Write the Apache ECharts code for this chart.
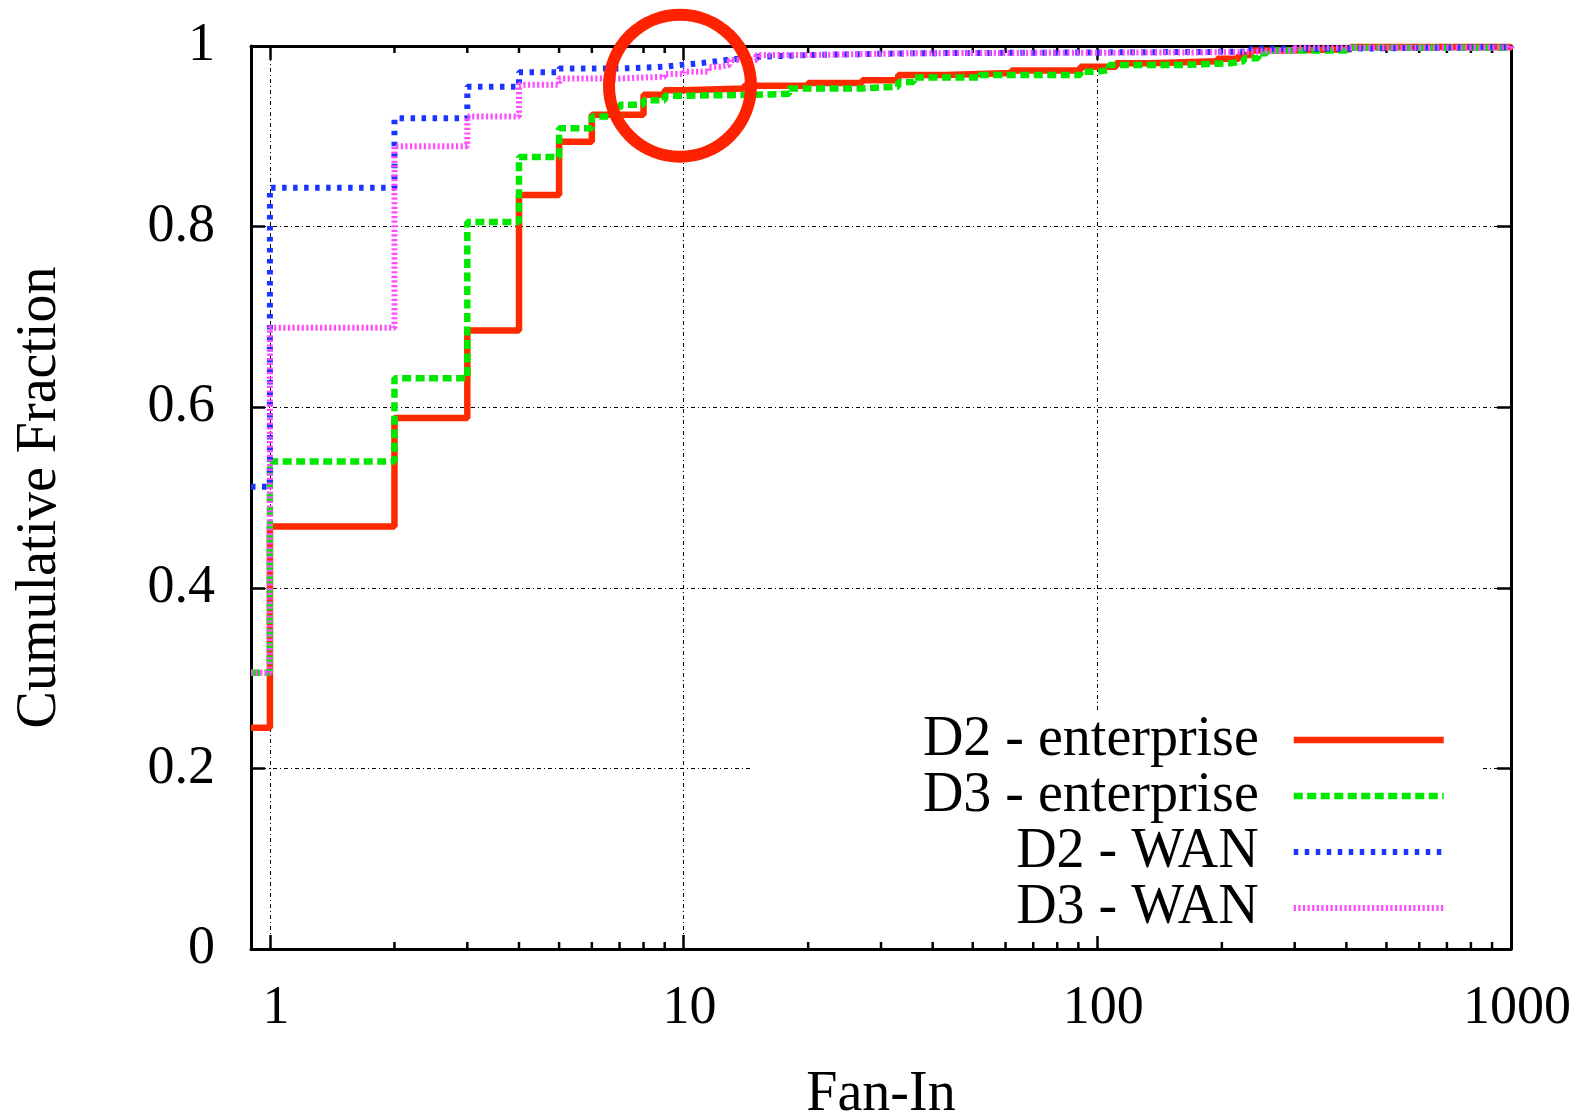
<!DOCTYPE html>
<html>
<head>
<meta charset="utf-8">
<script src="https://cdn.jsdelivr.net/npm/echarts@6/dist/echarts.min.js"></script>
<style>
  html, body { margin: 0; padding: 0; background: #fff; }
  #chart { width: 1583px; height: 1115px; }
</style>
</head>
<body>
<div id="chart"></div>
<script>
// Cumulative fan-in distributions, [fan-in, cumulative fraction], plotted as steps
const d2Enterprise = [[0.9, 0.245], [1, 0.468], [2, 0.588], [3, 0.685], [4, 0.835], [5, 0.894], [6, 0.924],
  [8, 0.946], [9, 0.951], [10, 0.953], [14, 0.956], [20, 0.959], [27, 0.962], [33, 0.968], [43, 0.970],
  [62, 0.973], [91, 0.977], [111, 0.981], [134, 0.983], [195, 0.986], [220, 0.990], [235, 0.995],
  [280, 0.9965], [410, 0.999], [1000, 1]];
const d3Enterprise = [[0.9, 0.306], [1, 0.540], [2, 0.632], [3, 0.805], [4, 0.877], [5, 0.909], [6, 0.922],
  [7, 0.935], [8, 0.940], [9, 0.945], [10, 0.946], [15, 0.947], [18, 0.953], [27, 0.955], [33, 0.960],
  [36, 0.965], [52, 0.968], [91, 0.9715], [100, 0.9734], [107, 0.979], [161, 0.981], [210, 0.983],
  [226, 0.9865], [245, 0.992], [257, 0.995], [400, 0.998], [1000, 1]];
const d2Wan = [[0.9, 0.512], [1, 0.843], [2, 0.920], [3, 0.955], [4, 0.971], [5, 0.975], [7, 0.977],
  [9, 0.979], [9.8, 0.981], [11, 0.983], [12, 0.985], [12.9, 0.9865], [14, 0.988], [15, 0.990],
  [20, 0.992], [36, 0.9926], [77, 0.9937], [235, 0.997], [400, 0.999], [1000, 1]];
const d3Wan = [[0.9, 0.306], [1, 0.688], [2, 0.889], [3, 0.922], [4, 0.957], [5, 0.964], [7, 0.966],
  [9, 0.969], [10, 0.9715], [11.5, 0.977], [12.3, 0.979], [12.9, 0.9845], [15, 0.990], [20, 0.992],
  [36, 0.993], [200, 0.995], [300, 0.998], [1000, 1]];

// Highlighted region of interest (centre of the red ring)
const highlightPoint = [[9.8, 0.956]];

// Axis ticks and labels
const xTickLabels = [1, 10, 100, 1000];
const xMinorTicks = [2, 3, 4, 5, 6, 7, 8, 9, 20, 30, 40, 50, 60, 70, 80, 90, 200, 300, 400, 500, 600, 700, 800, 900];
const yTickLabels = ['0', '0.2', '0.4', '0.6', '0.8', '1'];

const seriesNames = ['D2 - enterprise', 'D3 - enterprise', 'D2 - WAN', 'D3 - WAN'];

const FONT = 'Liberation Serif';
const BLACK = '#000';
const gridLine = { type: [4, 3, 1, 3], color: BLACK, width: 1 };
const axisLine = { show: true, onZero: false, lineStyle: { color: BLACK, width: 3 } };
const majorTick = { show: true, inside: true, length: 14, lineStyle: { color: BLACK, width: 2.5 } };

const chart = echarts.init(document.getElementById('chart'));

chart.setOption({
  animation: false,
  backgroundColor: '#fff',
  textStyle: { fontFamily: FONT },
  grid: { left: 251, right: 72, top: 46, bottom: 166, containLabel: false, outerBoundsMode: 'none' },
  xAxis: [{
    type: 'log', logBase: 10, min: 0.9, max: 1000,
    name: 'Fan-In', nameLocation: 'middle', nameGap: 118,
    nameTextStyle: { fontSize: 56, color: BLACK, fontFamily: FONT },
    axisLine: axisLine,
    axisTick: majorTick,
    axisLabel: {
      fontSize: 54, color: BLACK, fontFamily: FONT, margin: 33, showMinLabel: false,
      padding: [0, 0, 0, 12],
      formatter: function (v) {
        const r = Math.round(v);
        return (Math.abs(v - r) < 1e-6 && xTickLabels.indexOf(r) >= 0) ? String(r) : '';
      }
    },
    splitLine: { show: true, lineStyle: gridLine }
  }, {
    type: 'log', logBase: 10, min: 0.9, max: 1000, position: 'top',
    axisLine: axisLine, axisTick: majorTick,
    axisLabel: { show: false }, splitLine: { show: false }
  }],
  yAxis: [{
    type: 'value', min: 0, max: 1, interval: 0.2,
    name: 'Cumulative Fraction', nameLocation: 'middle', nameGap: 183, nameRotate: 90,
    nameTextStyle: { fontSize: 56, color: BLACK, fontFamily: FONT },
    axisLine: axisLine,
    axisTick: majorTick,
    axisLabel: {
      fontSize: 54, color: BLACK, fontFamily: FONT, margin: 36, padding: [4, 0, 0, 0],
      formatter: function (v) { return yTickLabels[Math.round(v / 0.2)]; }
    },
    splitLine: { show: true, lineStyle: gridLine }
  }, {
    type: 'value', min: 0, max: 1, interval: 0.2, position: 'right',
    axisLine: axisLine, axisTick: majorTick,
    axisLabel: { show: false }, splitLine: { show: false }
  }],
  legend: {
    orient: 'vertical', right: 102, top: 712, align: 'right',
    itemWidth: 150, itemHeight: 14, itemGap: 0,
    padding: [0, 34, 0, 171], backgroundColor: '#fff',
    selectedMode: false,
    lineStyle: { width: 'inherit' },
    itemStyle: { color: 'rgba(0,0,0,0)', borderColor: 'rgba(0,0,0,0)', borderWidth: 0, opacity: 0 },
    textStyle: { fontSize: 56, color: BLACK, fontFamily: FONT, lineHeight: 56, padding: [0, 30, 0, 0] },
    data: seriesNames
  },
  series: [{
    name: seriesNames[0], type: 'line', step: 'end', data: d2Enterprise,
    symbol: 'none', silent: true, z: 4,
    itemStyle: { color: '#ff2a00' },
    lineStyle: { color: '#ff2a00', width: 6.5 }
  }, {
    name: seriesNames[1], type: 'line', step: 'end', data: d3Enterprise,
    symbol: 'none', silent: true, z: 5,
    itemStyle: { color: '#00e800' },
    lineStyle: { color: '#00e800', width: 6.5, type: [9, 4.5] }
  }, {
    name: seriesNames[2], type: 'line', step: 'end', data: d2Wan,
    symbol: 'none', silent: true, z: 6,
    itemStyle: { color: '#1a35ff' },
    lineStyle: { color: '#1a35ff', width: 6, type: [4.5, 6.5] }
  }, {
    name: seriesNames[3], type: 'line', step: 'end', data: d3Wan,
    symbol: 'none', silent: true, z: 7,
    itemStyle: { color: '#ff4cff' },
    lineStyle: { color: '#ff4cff', width: 6, type: [2.2, 2.4] }
  }, {
    // minor log ticks on the bottom and top frame
    type: 'custom', silent: true, clip: false, z: 3,
    data: xMinorTicks.map(function (v) { return [v, 0]; }),
    renderItem: function (params, api) {
      const x = api.value(0);
      const b = api.coord([x, 0]);
      const t = api.coord([x, 1]);
      return {
        type: 'group',
        children: [
          { type: 'line', shape: { x1: b[0], y1: b[1], x2: b[0], y2: b[1] - 7 }, style: { stroke: BLACK, lineWidth: 2.5 } },
          { type: 'line', shape: { x1: t[0], y1: t[1], x2: t[0], y2: t[1] + 7 }, style: { stroke: BLACK, lineWidth: 2.5 } }
        ]
      };
    }
  }, {
    // red ring marking the knee of the curves
    type: 'scatter', data: highlightPoint, symbol: 'circle', symbolSize: 142,
    silent: true, clip: false, z: 10,
    itemStyle: { color: 'rgba(0,0,0,0)', borderColor: '#ff2200', borderWidth: 12, opacity: 1 }
  }]
});
</script>
</body>
</html>
